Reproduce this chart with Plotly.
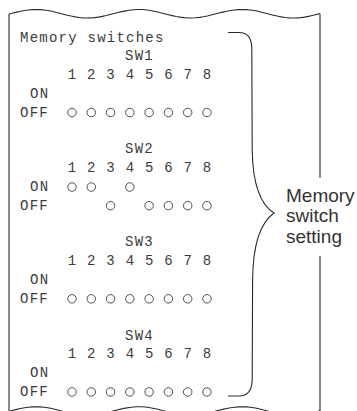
import math
import plotly.graph_objects as go

# ---------------- data ----------------
TITLE = "Memory switches"
SWITCH_NAMES = ["SW1", "SW2", "SW3", "SW4"]
SWITCH_NUMBERS = [1, 2, 3, 4, 5, 6, 7, 8]
STATE_LABELS = ["ON", "OFF"]
SW1_STATES = ["OFF", "OFF", "OFF", "OFF", "OFF", "OFF", "OFF", "OFF"]
SW2_STATES = ["ON", "ON", "OFF", "ON", "OFF", "OFF", "OFF", "OFF"]
SW3_STATES = ["OFF", "OFF", "OFF", "OFF", "OFF", "OFF", "OFF", "OFF"]
SW4_STATES = ["OFF", "OFF", "OFF", "OFF", "OFF", "OFF", "OFF", "OFF"]
SIDE_LABEL = ["Memory", "switch", "setting"]

ALL_STATES = [SW1_STATES, SW2_STATES, SW3_STATES, SW4_STATES]

# ---------------- style ----------------
W, H = 357, 411
MONO = "Liberation Mono, Courier New, monospace"
MONO_SIZE = 14
LETTER_SP = 1.24
TXT = "#3c3c3c"
LINE = "#2a2a2a"


def spaced(s):
    return '<span style="letter-spacing:%.2fpx">%s</span>' % (LETTER_SP, s)


def col_x(c):
    # left edge of printer character column c, in switch units
    return 1 + (c - 5.5) / 2.0


fig = go.Figure()

annotations = []
# title row
annotations.append(dict(x=col_x(0), y=0, xref="x", yref="y", text=spaced(TITLE),
                        showarrow=False, xanchor="left", yanchor="middle", borderpad=0,
                        font=dict(family=MONO, size=MONO_SIZE, color=TXT)))

for b, (name, states) in enumerate(zip(SWITCH_NAMES, ALL_STATES)):
    r0 = 1 + 5 * b
    # SW label centred over the switches
    fig.add_trace(go.Scatter(
        x=[sum(SWITCH_NUMBERS) / len(SWITCH_NUMBERS)], y=[r0], mode="text",
        text=[spaced(name)], textposition="middle center",
        textfont=dict(family=MONO, size=MONO_SIZE, color=TXT),
        hoverinfo="skip", showlegend=False))
    # switch numbers
    fig.add_trace(go.Scatter(
        x=SWITCH_NUMBERS, y=[r0 + 1] * len(SWITCH_NUMBERS), mode="text",
        text=[str(n) for n in SWITCH_NUMBERS], textposition="middle center",
        textfont=dict(family=MONO, size=MONO_SIZE, color=TXT),
        hoverinfo="skip", showlegend=False))
    # ON / OFF labels
    for k, lab in enumerate(STATE_LABELS):
        start_col = 1 if lab == "ON" else 0
        annotations.append(dict(x=col_x(start_col), y=r0 + 2 + k, xref="x", yref="y",
                                text=spaced(lab), showarrow=False, xanchor="left",
                                yanchor="middle", borderpad=0,
                                font=dict(family=MONO, size=MONO_SIZE, color=TXT)))
    # marks
    xs, ys = [], []
    for n, st in zip(SWITCH_NUMBERS, states):
        xs.append(n)
        ys.append(r0 + 2 + STATE_LABELS.index(st))
    fig.add_trace(go.Scatter(
        x=xs, y=ys, mode="markers",
        marker=dict(symbol="circle-open", size=8.5, color=TXT, line=dict(width=0.9, color=TXT)),
        hoverinfo="skip", showlegend=False))


# ---------------- decorative drawing (pixel space -> paper) ----------------
def fx(px):
    return px / W


def fy(py):
    return 1 - py / H


def wave(base, x0, x1, n=80):
    pts = []
    for i in range(n + 1):
        x = x0 + (x1 - x0) * i / n
        y = base - 4.25 * math.cos(2 * math.pi * (x - 36) / 103.0)
        pts.append((x, y))
    return pts


def path_from(pts):
    return "M " + " L ".join("%.5f,%.5f" % (fx(x), fy(y)) for x, y in pts)


shapes = []
lw = 1.1
# top torn edge
shapes.append(dict(type="path", xref="paper", yref="paper", path=path_from(wave(13.75, 9, 320)),
                   line=dict(color=LINE, width=lw)))
# bottom torn edge
shapes.append(dict(type="path", xref="paper", yref="paper", path=path_from(wave(411.0, 9, 320)),
                   line=dict(color=LINE, width=lw)))
# left edge
shapes.append(dict(type="line", xref="paper", yref="paper", x0=fx(9), x1=fx(9), y0=fy(14), y1=fy(412),
                   line=dict(color=LINE, width=lw)))
# right edge (interrupted by label)
shapes.append(dict(type="line", xref="paper", yref="paper", x0=fx(320), x1=fx(320), y0=fy(13.5), y1=fy(178),
                   line=dict(color=LINE, width=lw)))
shapes.append(dict(type="line", xref="paper", yref="paper", x0=fx(320), x1=fx(320), y0=fy(256), y1=fy(412),
                   line=dict(color=LINE, width=lw)))

# brace
def P(x, y):
    return "%.5f,%.5f" % (fx(x), fy(y))


brace = ("M " + P(228, 32.5) + " L " + P(239, 32.5) + " Q " + P(251.5, 32.5) + " " + P(251.8, 48) +
         " L " + P(252.2, 150) + " Q " + P(253, 200) + " " + P(274, 213) +
         " Q " + P(253, 228) + " " + P(252.6, 280) + " L " + P(252.2, 380) +
         " Q " + P(251.8, 396) + " " + P(239, 396) + " L " + P(228, 396))
shapes.append(dict(type="path", xref="paper", yref="paper", path=brace,
                   line=dict(color=LINE, width=lw)))

for i, (t, yc) in enumerate(zip(SIDE_LABEL, [195, 215.5, 236.5])):
    annotations.append(dict(x=fx(285), y=fy(yc), xref="paper", yref="paper", text=t,
                            showarrow=False, xanchor="left", yanchor="middle", borderpad=0,
                            font=dict(family="Liberation Sans, Arial, sans-serif", size=19, color="#333333")))

fig.update_layout(
    width=W, height=H,
    margin=dict(l=0, r=0, t=0, b=0),
    paper_bgcolor="white", plot_bgcolor="white",
    showlegend=False,
    xaxis=dict(range=[1 - 72 / 19.28, 1 + (W - 72) / 19.28], visible=False, fixedrange=True),
    yaxis=dict(range=[(H - 38) / 18.63, -38 / 18.63], visible=False, fixedrange=True),
    shapes=shapes,
    annotations=annotations,
)

fig.write_html("out.html", config={"displayModeBar": False},
               post_script="document.body.style.margin='0';document.body.style.padding='0';"
                           "document.body.style.overflow='hidden';")
